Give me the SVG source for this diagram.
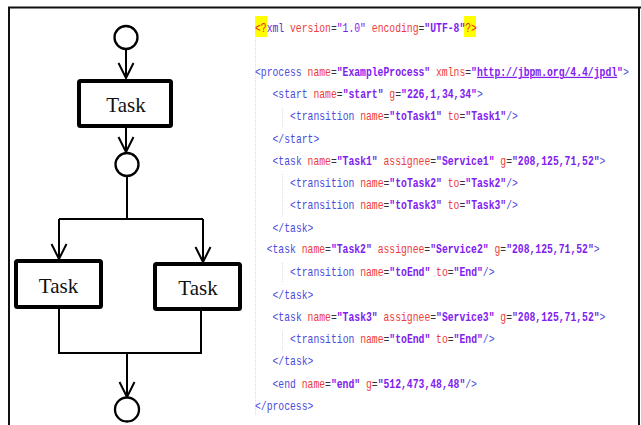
<svg xmlns="http://www.w3.org/2000/svg" width="641" height="425" viewBox="0 0 641 425">
<defs>
<style>
.frame{stroke:#111;stroke-width:2;fill:none}
.node{fill:#fff;stroke:#000}
.ev{stroke-width:2.3}
.task{stroke-width:4}
.lbl{font-family:"Liberation Serif","Times New Roman",serif;font-size:21px;fill:#111;text-anchor:middle}
.conn{fill:none;stroke:#000;stroke-width:2}
.code{font-family:"Liberation Mono","Courier New",monospace;font-size:12.5px}
.t{fill:#4b4bdc}
.a{fill:#ee3b3b}
.e{fill:#333}
.v{fill:#8020f0;font-weight:bold}
.vn{fill:#8020f0}
.x{fill:#5a2ad0}
.q{fill:#ee2020}
.guide{stroke:#dcdcdc;stroke-width:1;stroke-dasharray:1 1}
</style>
<marker id="arr" markerUnits="userSpaceOnUse" markerWidth="20" markerHeight="20" refX="0" refY="0" orient="auto" viewBox="-16 -10 20 20" overflow="visible">
<path d="M-15,-7.5 L0,0 L-15,7.5" fill="none" stroke="#000" stroke-width="2"/>
</marker>
</defs>
<rect width="641" height="425" fill="#fff"/>
<g id="frame">
<line class="frame" x1="8" y1="7.5" x2="641" y2="7.5" stroke-width="2.5"/>
<line class="frame" x1="9" y1="7" x2="9" y2="425"/>
<line class="frame" x1="639" y1="7" x2="639" y2="425" stroke-width="1.5"/>
</g>
<g id="connectors">
<path class="conn" d="M126,49 V78" marker-end="url(#arr)"/>
<path class="conn" d="M126,128 V152" marker-end="url(#arr)"/>
<path class="conn" d="M127,176 V219 M59,219 H203"/>
<path class="conn" d="M59,219 V259" marker-end="url(#arr)"/>
<path class="conn" d="M203,219 V262" marker-end="url(#arr)"/>
<path class="conn" d="M59,309 V353 H201 V311"/>
<path class="conn" d="M127,353 V397" marker-end="url(#arr)"/>
</g>
<g id="start"><circle class="node ev" cx="126" cy="37.5" r="11.5"/></g>
<g id="task1"><rect class="node task" x="79" y="81" width="92" height="45" rx="1.5"/><text class="lbl" x="126" y="112">Task</text></g>
<g id="gateway"><circle class="node ev" cx="127" cy="164.5" r="11.5"/></g>
<g id="task2"><rect class="node task" x="16" y="261" width="85" height="46" rx="1.5"/><text class="lbl" x="58.5" y="293">Task</text></g>
<g id="task3"><rect class="node task" x="155" y="264" width="85" height="45" rx="1.5"/><text class="lbl" x="198" y="295">Task</text></g>
<g id="end"><circle class="node ev" cx="127" cy="409.5" r="12"/></g>
<g id="code">
<line class="guide" x1="255.5" y1="38" x2="255.5" y2="416"/>
<line class="guide" x1="282.5" y1="108" x2="282.5" y2="127"/>
<line class="guide" x1="282.5" y1="174" x2="282.5" y2="216"/>
<line class="guide" x1="282.5" y1="263" x2="282.5" y2="283"/>
<line class="guide" x1="282.5" y1="331" x2="282.5" y2="350"/>
<rect x="255" y="16" width="12" height="21" fill="#ffff00"/>
<rect x="464" y="16" width="12" height="21" fill="#ffff00"/>
<g transform="scale(0.78,1)" class="code" xml:space="preserve">
<text x="326.9" y="32"><tspan class="q">&lt;?</tspan><tspan class="x">xml</tspan> <tspan class="a">version</tspan><tspan class="e">=</tspan><tspan class="vn">"1.0"</tspan> <tspan class="a">encoding</tspan><tspan class="e">=</tspan><tspan class="v">"UTF-8"</tspan><tspan class="q">?&gt;</tspan></text>
<text x="326.9" y="75.7"><tspan class="t">&lt;process</tspan> <tspan class="a">name</tspan><tspan class="e">=</tspan><tspan class="v">"ExampleProcess"</tspan> <tspan class="a">xmlns</tspan><tspan class="e">=</tspan><tspan class="v">"</tspan><tspan class="v" text-decoration="underline">http://jbpm.org/4.4/jpdl</tspan><tspan class="v">"</tspan><tspan class="t">&gt;</tspan></text>
<text x="349.4" y="98"><tspan class="t">&lt;start</tspan> <tspan class="a">name</tspan><tspan class="e">=</tspan><tspan class="v">"start"</tspan> <tspan class="a">g</tspan><tspan class="e">=</tspan><tspan class="v">"226,1,34,34"</tspan><tspan class="t">&gt;</tspan></text>
<text x="371.9" y="120.3"><tspan class="t">&lt;transition</tspan> <tspan class="a">name</tspan><tspan class="e">=</tspan><tspan class="v">"toTask1"</tspan> <tspan class="a">to</tspan><tspan class="e">=</tspan><tspan class="v">"Task1"</tspan><tspan class="t">/&gt;</tspan></text>
<text x="349.4" y="142.6"><tspan class="t">&lt;/start&gt;</tspan></text>
<text x="349.4" y="164.9"><tspan class="t">&lt;task</tspan> <tspan class="a">name</tspan><tspan class="e">=</tspan><tspan class="v">"Task1"</tspan> <tspan class="a">assignee</tspan><tspan class="e">=</tspan><tspan class="v">"Service1"</tspan> <tspan class="a">g</tspan><tspan class="e">=</tspan><tspan class="v">"208,125,71,52"</tspan><tspan class="t">&gt;</tspan></text>
<text x="371.9" y="187.2"><tspan class="t">&lt;transition</tspan> <tspan class="a">name</tspan><tspan class="e">=</tspan><tspan class="v">"toTask2"</tspan> <tspan class="a">to</tspan><tspan class="e">=</tspan><tspan class="v">"Task2"</tspan><tspan class="t">/&gt;</tspan></text>
<text x="371.9" y="209.4"><tspan class="t">&lt;transition</tspan> <tspan class="a">name</tspan><tspan class="e">=</tspan><tspan class="v">"toTask3"</tspan> <tspan class="a">to</tspan><tspan class="e">=</tspan><tspan class="v">"Task3"</tspan><tspan class="t">/&gt;</tspan></text>
<text x="349.4" y="231.7"><tspan class="t">&lt;/task&gt;</tspan></text>
<text x="341.9" y="253"><tspan class="t">&lt;task</tspan> <tspan class="a">name</tspan><tspan class="e">=</tspan><tspan class="v">"Task2"</tspan> <tspan class="a">assignee</tspan><tspan class="e">=</tspan><tspan class="v">"Service2"</tspan> <tspan class="a">g</tspan><tspan class="e">=</tspan><tspan class="v">"208,125,71,52"</tspan><tspan class="t">&gt;</tspan></text>
<text x="371.9" y="276.3"><tspan class="t">&lt;transition</tspan> <tspan class="a">name</tspan><tspan class="e">=</tspan><tspan class="v">"toEnd"</tspan> <tspan class="a">to</tspan><tspan class="e">=</tspan><tspan class="v">"End"</tspan><tspan class="t">/&gt;</tspan></text>
<text x="349.4" y="298.6"><tspan class="t">&lt;/task&gt;</tspan></text>
<text x="349.4" y="320.9"><tspan class="t">&lt;task</tspan> <tspan class="a">name</tspan><tspan class="e">=</tspan><tspan class="v">"Task3"</tspan> <tspan class="a">assignee</tspan><tspan class="e">=</tspan><tspan class="v">"Service3"</tspan> <tspan class="a">g</tspan><tspan class="e">=</tspan><tspan class="v">"208,125,71,52"</tspan><tspan class="t">&gt;</tspan></text>
<text x="371.9" y="343.2"><tspan class="t">&lt;transition</tspan> <tspan class="a">name</tspan><tspan class="e">=</tspan><tspan class="v">"toEnd"</tspan> <tspan class="a">to</tspan><tspan class="e">=</tspan><tspan class="v">"End"</tspan><tspan class="t">/&gt;</tspan></text>
<text x="349.4" y="365.5"><tspan class="t">&lt;/task&gt;</tspan></text>
<text x="349.4" y="387.8"><tspan class="t">&lt;end</tspan> <tspan class="a">name</tspan><tspan class="e">=</tspan><tspan class="v">"end"</tspan> <tspan class="a">g</tspan><tspan class="e">=</tspan><tspan class="v">"512,473,48,48"</tspan><tspan class="t">/&gt;</tspan></text>
<text x="326.9" y="410.1"><tspan class="t">&lt;/process&gt;</tspan></text>
</g>
</g>
</svg>
